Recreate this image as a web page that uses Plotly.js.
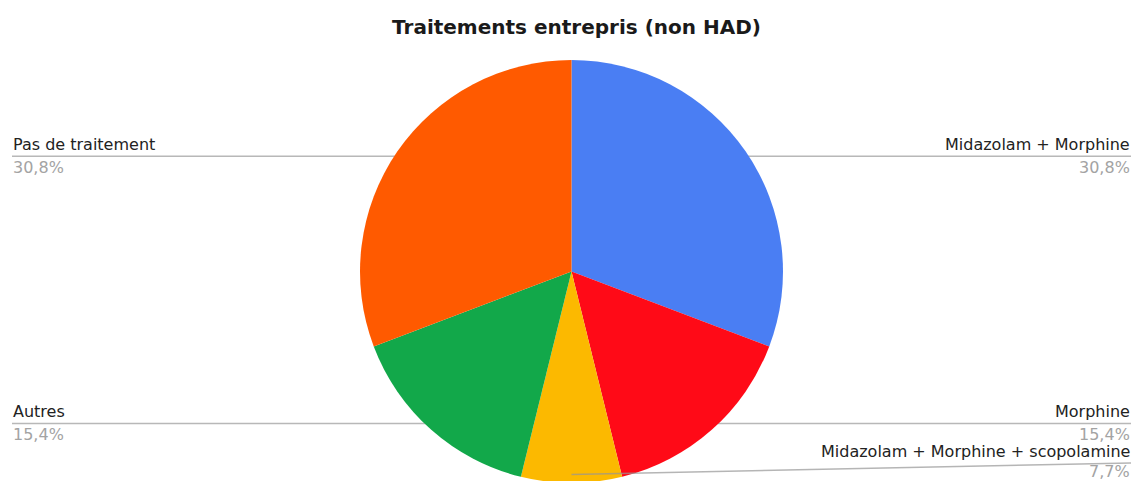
<!DOCTYPE html>
<html>
<head>
<meta charset="utf-8">
<script src="https://cdn.plot.ly/plotly-3.0.1.min.js"></script>
<style>
  html, body { margin: 0; padding: 0; background: #ffffff; overflow: hidden; }
  #chart { width: 1133px; height: 483px; }
</style>
</head>
<body>
<div id="chart"></div>
<script>
// ---- data ----
const categories = [
  "Midazolam + Morphine",
  "Morphine",
  "Midazolam + Morphine + scopolamine",
  "Autres",
  "Pas de traitement"
];
const counts = [4, 2, 1, 2, 4];
const sliceColors = ["#4a7ef3", "#ff0a17", "#fcb900", "#12a84a", "#ff5a00"];
const chartTitle = "Traitements entrepris (non HAD)";

// ---- layout geometry (pixels) ----
const W = 1133, H = 483;
const cx = 571.5, cy = 271.5, R = 211.5;
const px = x => x / W;
const py = y => 1 - y / H;

const total = counts.reduce((a, b) => a + b, 0);
const pctText = v => (v / total * 100).toFixed(1).replace('.', ',') + '%';

const annotations = [];
const shapes = [];
let cum = 0;
counts.forEach((v, i) => {
  const mid = (cum + v / 2) / total * 2 * Math.PI;
  cum += v;
  const k = 0.96;
  const sx = cx + k * R * Math.sin(mid);
  const sy = cy - k * R * Math.cos(mid);
  const right = Math.sin(mid) > -1e-9;
  const ey = Math.min(sy, 463);
  const ex = right ? 1131 : 12;
  const clamped = Math.abs(ey - sy) > 0.5;
  shapes.push({
    type: 'line', xref: 'paper', yref: 'paper',
    x0: px(sx), y0: py(sy), x1: px(ex), y1: py(ey),
    line: { color: clamped ? 'rgba(150,150,150,0.7)' : '#b8b8b8', width: 1.5 },
    layer: clamped ? 'above' : 'below'
  });
  annotations.push({
    xref: 'paper', yref: 'paper', x: px(ex), y: py(ey - 12),
    xanchor: right ? 'right' : 'left', yanchor: 'middle',
    text: categories[i], showarrow: false, borderpad: 0,
    font: { family: 'DejaVu Sans', size: 16, color: '#222222' }
  });
  annotations.push({
    xref: 'paper', yref: 'paper', x: px(ex), y: py(ey + (clamped ? 8 : 11)),
    xanchor: right ? 'right' : 'left', yanchor: 'middle',
    text: pctText(v), showarrow: false, borderpad: 0,
    font: { family: 'DejaVu Sans', size: 16, color: '#a3a3a3' }
  });
});

const trace = {
  type: 'pie',
  labels: categories,
  values: counts,
  sort: false,
  direction: 'clockwise',
  rotation: 0,
  textinfo: 'none',
  hoverinfo: 'skip',
  marker: { colors: sliceColors, line: { width: 0 } },
  domain: { x: [px(cx - R), px(cx + R)], y: [0, (2 * R) / H] },
  showlegend: false
};

const layout = {
  width: W, height: H,
  margin: { l: 0, r: 0, t: 0, b: 0 },
  paper_bgcolor: '#ffffff',
  showlegend: false,
  separators: ',.',
  title: {
    text: '<b>' + chartTitle + '</b>',
    font: { family: 'DejaVu Sans', size: 20, color: '#1a1a1a' },
    x: px(576.5), xanchor: 'center', xref: 'paper',
    y: py(27), yanchor: 'middle', yref: 'paper'
  },
  annotations: annotations,
  shapes: shapes
};

Plotly.newPlot('chart', [trace], layout, { displayModeBar: false, staticPlot: true });
</script>
</body>
</html>
